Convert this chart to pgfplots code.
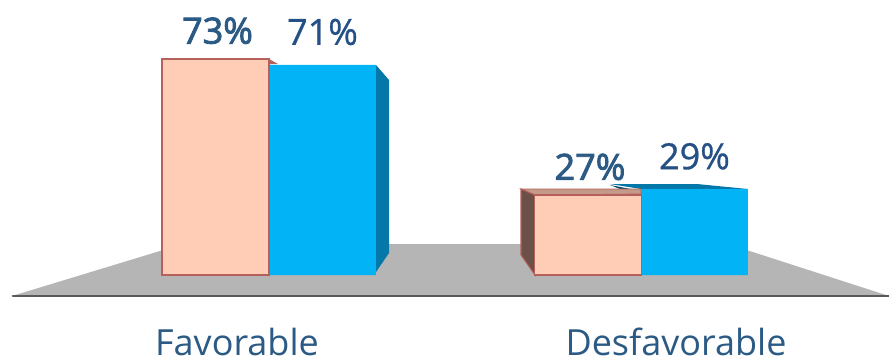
\documentclass[border=0pt]{standalone}
\usepackage{pgfplots}
\pgfplotsset{compat=1.18}
\usepackage{fontspec}
\setmainfont{Open Sans}
\newfontfamily\lblb[FakeBold=2.4]{Open Sans}
\newfontfamily\lblr[FakeBold=0.8]{Open Sans}
\definecolor{txt}{HTML}{2B5A85}
\definecolor{txtb}{HTML}{245086}
\definecolor{pinkf}{HTML}{FFCDB5}
\definecolor{pinke}{HTML}{B5605A}
\definecolor{pinkt}{HTML}{C49A88}
\definecolor{pinks}{HTML}{6B5047}
\definecolor{bluef}{HTML}{02B4F5}
\definecolor{blues}{HTML}{0478A8}
\definecolor{blued}{HTML}{0A4A68}
\definecolor{floorc}{HTML}{B5B5B5}
\begin{document}
\begin{tikzpicture}
\path[use as bounding box] (0,0) rectangle (666.75pt,270pt);
\begin{axis}[
  at={(9pt,48pt)}, anchor=south west,
  scale only axis, width=657.75pt, height=222pt,
  xmin=12, xmax=889, ymin=-7.09, ymax=92.9,
  clip=false,
  axis y line=none,
  axis x line=bottom,
  axis line style={-, draw=none},
  xtick={237,676},
  xticklabels={Favorable,Desfavorable},
  major tick length=0pt,
  xticklabel style={font=\fontsize{27}{27}\selectfont, text=txt, anchor=base, inner sep=0pt, yshift=-44.5pt},
  /pgf/number format/assume math mode=true,
  bar width=80pt,
]
% floor
\addplot[fill=floorc, draw=none] coordinates {(12,-7.09) (183,10.47) (728,10.47) (889,-7.09)} --cycle;
\addplot[draw=black!65, line width=2pt, line cap=round] coordinates {(13,-7.09) (889,-7.09)};
% sides and tops
\addplot[fill=blues, draw=none] coordinates {(376,70.95) (389,65.88) (389,7.43) (376,1.01)} --cycle;
\addplot[fill=pinke, draw=none] coordinates {(269,72.97) (278,71.28) (269,71.28)} --cycle;
\addplot[fill=blues, draw=none] coordinates {(610,30.74) (697,30.74) (748,29.05) (641,29.05)} --cycle;
\addplot[fill=blued, draw=none] coordinates {(610,30.41) (641,28.38) (641,27.36) (620,29.05)} --cycle;
\addplot[fill=pinkt, draw=pinke, line width=.6pt] coordinates {(521,29.05) (641,29.05) (641,27.36) (535,27.0)} --cycle;
\addplot[fill=pinks, draw=pinke, line width=.8pt] coordinates {(521,29.05) (535,27.0) (535,0) (521,6.76)} --cycle;
% bars
\addplot[ybar, bar shift=0pt, fill=bluef, draw=none,
  nodes near coords={\pgfmathprintnumber{\pgfplotspointmeta}\%},
  every node near coord/.append style={font=\fontsize{27}{27}\lblr, text=txtb, anchor=base, yshift=15pt}] coordinates {(322.5,71) (694.5,29)};
\addplot[ybar, bar shift=0pt, fill=pinkf, draw=pinke, line width=1.2pt,
  nodes near coords={\pgfmathprintnumber{\pgfplotspointmeta}\%},
  every node near coord/.append style={font=\fontsize{27}{27}\lblb, text=txt, anchor=base, yshift=11.5pt, xshift=1.5pt}] coordinates {(215.5,73) (588,27)};
\end{axis}
\end{tikzpicture}
\end{document}
